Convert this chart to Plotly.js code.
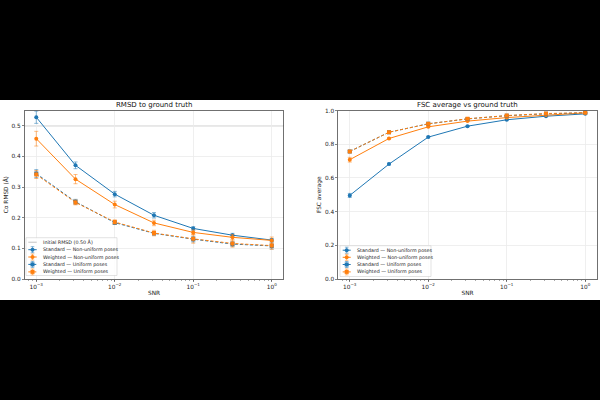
<!DOCTYPE html>
<html><head><meta charset="utf-8">
<script src="https://cdn.plot.ly/plotly-3.0.1.min.js"></script>
<style>
html,body{margin:0;padding:0;background:#000;width:600px;height:400px;overflow:hidden}
#chart{position:absolute;left:0;top:100px;width:600px;height:200px;background:#fff}
</style>
</head><body><div id="chart"></div>
<script>
// ---- data ----
const snr = [0.001, 0.003162, 0.01, 0.03162, 0.1, 0.3162, 1];
const initialRmsd = 0.50;

const rmsdStdNonUni    = [0.528, 0.371, 0.277, 0.208, 0.165, 0.143, 0.127];
const rmsdStdNonUniErr = [0.020, 0.011, 0.009, 0.009, 0.006, 0.006, 0.005];
const rmsdWtdNonUni    = [0.458, 0.326, 0.243, 0.183, 0.152, 0.136, 0.126];
const rmsdWtdNonUniErr = [0.024, 0.015, 0.011, 0.009, 0.008, 0.009, 0.011];
const rmsdStdUni       = [0.344, 0.252, 0.184, 0.149, 0.130, 0.114, 0.108];
const rmsdStdUniErr    = [0.013, 0.008, 0.006, 0.006, 0.009, 0.008, 0.010];
const rmsdWtdUni       = [0.341, 0.250, 0.186, 0.150, 0.131, 0.116, 0.109];
const rmsdWtdUniErr    = [0.013, 0.008, 0.007, 0.009, 0.014, 0.012, 0.012];

const fscStdNonUni    = [0.496, 0.682, 0.842, 0.907, 0.945, 0.966, 0.980];
const fscStdNonUniErr = [0.012, 0.005, 0.004, 0.003, 0.003, 0.002, 0.002];
const fscWtdNonUni    = [0.708, 0.834, 0.903, 0.937, 0.958, 0.974, 0.986];
const fscWtdNonUniErr = [0.014, 0.005, 0.004, 0.003, 0.003, 0.002, 0.002];
const fscStdUni       = [0.757, 0.871, 0.921, 0.950, 0.969, 0.980, 0.986];
const fscStdUniErr    = [0.005, 0.004, 0.003, 0.003, 0.002, 0.002, 0.002];
const fscWtdUni       = [0.757, 0.871, 0.921, 0.951, 0.970, 0.982, 0.987];
const fscWtdUniErr    = [0.005, 0.004, 0.003, 0.003, 0.002, 0.002, 0.002];

const xTickVals = [0.001, 0.01, 0.1, 1];
const xTickText = ['10<sup>−3</sup>', '10<sup>−2</sup>', '10<sup>−1</sup>', '10<sup>0</sup>'];
const rmsdTicks = [0, 0.1, 0.2, 0.3, 0.4, 0.5];
const fscTicks = [0, 0.2, 0.4, 0.6, 0.8, 1.0];

const initialLabel = 'Initial RMSD (0.50 Å)';
const seriesLabels = ['Standard — Non-uniform poses', 'Weighted — Non-uniform poses',
                      'Standard — Uniform poses', 'Weighted — Uniform poses'];
const titleLeft = 'RMSD to ground truth';
const titleRight = 'FSC average vs ground truth';

// ---- styles ----
const BLUE = '#1f77b4', ORANGE = '#ff7f0e';
const BLUE_E = 'rgba(31,119,180,0.65)', ORANGE_E = 'rgba(255,127,14,0.65)';
const FONT = 'DejaVu Sans';
const W = 600, H = 200;
const px = v => v / W, py = v => 1 - v / H;

const styles = [
  {c: BLUE, e: BLUE_E, sym: 'circle', dash: 'solid'},
  {c: ORANGE, e: ORANGE_E, sym: 'circle', dash: 'solid'},
  {c: BLUE, e: BLUE_E, sym: 'square', dash: '3px,2px'},
  {c: ORANGE, e: ORANGE_E, sym: 'square', dash: '3px,2px'}
];

function mk(y, err, st, xa, ya) {
  return {
    x: snr, y: y, xaxis: xa, yaxis: ya, type: 'scatter', mode: 'lines+markers',
    showlegend: false, hoverinfo: 'skip',
    line: {color: st.c, width: 1, dash: st.dash},
    marker: {color: st.c, size: 4, symbol: st.sym},
    error_y: {type: 'data', array: err, visible: true, color: st.e, thickness: 0.8, width: 2}
  };
}

const left = [[rmsdStdNonUni, rmsdStdNonUniErr], [rmsdWtdNonUni, rmsdWtdNonUniErr],
              [rmsdStdUni, rmsdStdUniErr], [rmsdWtdUni, rmsdWtdUniErr]];
const right = [[fscStdNonUni, fscStdNonUniErr], [fscWtdNonUni, fscWtdNonUniErr],
               [fscStdUni, fscStdUniErr], [fscWtdUni, fscWtdUniErr]];
const traces = [];
left.forEach((d, i) => traces.push(mk(d[0], d[1], styles[i], 'x', 'y')));
right.forEach((d, i) => traces.push(mk(d[0], d[1], styles[i], 'x2', 'y2')));

const axFont = {family: FONT, size: 5.8, color: '#222'};
function xAxis(domain, anchor) {
  return {
    domain: domain, anchor: anchor, type: 'log', range: [-3.15, 0.15],
    tickvals: xTickVals, ticktext: xTickText, tickfont: axFont,
    ticks: 'outside', ticklen: 2, tickwidth: 0.6, tickcolor: '#333',
    showline: true, linecolor: '#333', linewidth: 0.7, mirror: true,
    showgrid: true, gridcolor: '#ebebeb', gridwidth: 0.8, zeroline: false,
    minor: {ticks: 'outside', ticklen: 1.2, tickwidth: 0.5, tickcolor: '#555', dtick: 'D1', showgrid: false},
    title: {text: 'SNR', font: {family: FONT, size: 5.8, color: '#222'}, standoff: 2},
    fixedrange: true
  };
}
function yAxis(domain, anchor, range, ticks, title) {
  return {
    domain: domain, anchor: anchor, range: range, tickvals: ticks, tickformat: '.1f',
    tickfont: axFont, ticks: 'outside', ticklen: 2, tickwidth: 0.6, tickcolor: '#333',
    showline: true, linecolor: '#333', linewidth: 0.7, mirror: true,
    showgrid: true, gridcolor: '#ebebeb', gridwidth: 0.8, zeroline: false,
    title: {text: title, font: {family: FONT, size: 5.8, color: '#222'}, standoff: 2},
    fixedrange: true
  };
}

const shapes = [];
const annotations = [];
// reference line at initial RMSD
shapes.push({type: 'line', xref: 'x domain', yref: 'y', x0: 0, x1: 1, y0: initialRmsd, y1: initialRmsd,
  line: {color: 'rgba(160,160,160,0.45)', width: 1.4}, layer: 'below'});

// titles
annotations.push({text: titleLeft, xref: 'paper', yref: 'paper', x: px(154), y: py(5.5),
  showarrow: false, xanchor: 'center', yanchor: 'middle', font: {family: FONT, size: 7, color: '#111'}});
annotations.push({text: titleRight, xref: 'paper', yref: 'paper', x: px(467.5), y: py(5.5),
  showarrow: false, xanchor: 'center', yanchor: 'middle', font: {family: FONT, size: 7, color: '#111'}});

// manual compact legends
function legend(box, rows, glyph, entries) {
  shapes.push({type: 'rect', xref: 'paper', yref: 'paper', x0: px(box[0]), x1: px(box[1]),
    y0: py(box[3]), y1: py(box[2]), fillcolor: 'rgba(255,255,255,0.85)',
    line: {color: '#d0d0d0', width: 0.6}});
  entries.forEach((en, i) => {
    const yy = rows[i];
    shapes.push({type: 'line', xref: 'paper', yref: 'paper', x0: px(glyph[0]), x1: px(glyph[1]),
      y0: py(yy), y1: py(yy), line: {color: en.c, width: en.w || 1, dash: en.dash || 'solid'}});
    if (en.sym) {
      const m = (glyph[0] + glyph[1]) / 2;
      shapes.push({type: 'line', xref: 'paper', yref: 'paper', x0: px(m), x1: px(m),
        y0: py(yy - 3), y1: py(yy + 3), line: {color: en.e, width: 0.8}});
      shapes.push({type: 'line', xref: 'paper', yref: 'paper', x0: px(m - 1.8), x1: px(m + 1.8),
        y0: py(yy - 3), y1: py(yy - 3), line: {color: en.e, width: 0.8}});
      shapes.push({type: 'line', xref: 'paper', yref: 'paper', x0: px(m - 1.8), x1: px(m + 1.8),
        y0: py(yy + 3), y1: py(yy + 3), line: {color: en.e, width: 0.8}});
      shapes.push({type: en.sym === 'circle' ? 'circle' : 'rect', xref: 'paper', yref: 'paper',
        x0: px(m - 2), x1: px(m + 2), y0: py(yy + 2), y1: py(yy - 2),
        fillcolor: en.c, line: {width: 0}});
    }
    annotations.push({text: en.label, xref: 'paper', yref: 'paper', x: px(glyph[1] + 4.5), y: py(yy),
      xanchor: 'left', yanchor: 'middle', showarrow: false,
      font: {family: FONT, size: 4.8, color: '#222'}});
  });
}
const seriesEntries = seriesLabels.map((l, i) => ({label: l, c: styles[i].c, e: styles[i].e,
  sym: styles[i].sym, dash: styles[i].dash}));
legend([26, 117, 237.7 - 100, 175.5], [142.3, 149.7, 157, 164.4, 171.9], [28.3, 36.7],
  [{label: initialLabel, c: 'rgba(160,160,160,0.45)', w: 1.4}].concat(seriesEntries));
legend([340, 431, 145.7, 176.5], [150.2, 157.3, 164.5, 171.9], [342.7, 350.7], seriesEntries);

const layout = {
  width: W, height: H, margin: {l: 0, r: 0, t: 0, b: 0, pad: 0},
  paper_bgcolor: '#fff', plot_bgcolor: '#fff',
  font: {family: FONT, color: '#222'},
  showlegend: false,
  xaxis: xAxis([24.5 / W, 283.5 / W], 'y'),
  yaxis: yAxis([0.105, 0.9475], 'x', [0, 0.55], rmsdTicks, 'Cα RMSD (Å)'),
  xaxis2: xAxis([338 / W, 597 / W], 'y2'),
  yaxis2: yAxis([0.105, 0.9475], 'x2', [0, 1.0], fscTicks, 'FSC average'),
  shapes: shapes, annotations: annotations
};
Plotly.newPlot('chart', traces, layout, {staticPlot: true, displayModeBar: false});
</script>
</body></html>
